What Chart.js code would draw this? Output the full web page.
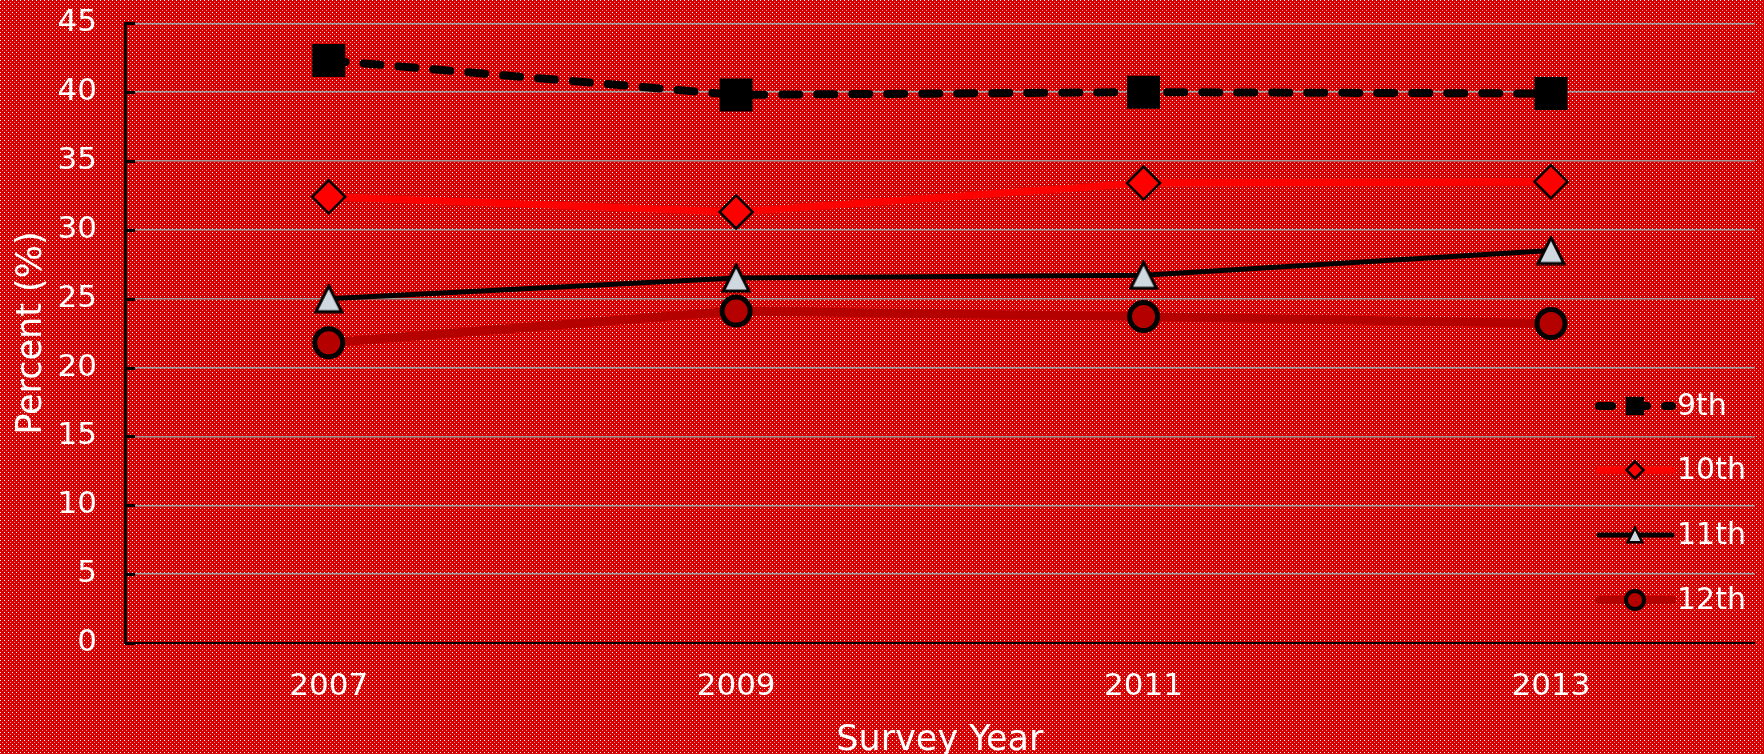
<!DOCTYPE html>
<html>
<head>
<meta charset="utf-8">
<title>Percent by Grade, Survey Years 2007–2013</title>
<script src="https://cdn.jsdelivr.net/npm/chart.js@4/dist/chart.umd.min.js"></script>
<style>
  html, body { margin: 0; padding: 0; overflow: hidden; background: #d40000; }
  #wrap { width: 1764px; height: 754px; overflow: hidden; }
</style>
</head>
<body>
<div id="wrap"><canvas id="chart" width="1778" height="762"></canvas></div>
<script>
// Survey years on the x axis
const years = ['2007', '2009', '2011', '2013'];

// Percent by grade
const grade9  = [42.3, 39.8, 40.0, 39.9];
const grade10 = [32.4, 31.3, 33.4, 33.5];
const grade11 = [25.0, 26.5, 26.7, 28.5];
const grade12 = [21.8, 24.1, 23.7, 23.2];

const seriesNames = ['9th', '10th', '11th', '12th'];

// Y axis range and step
const yMin = 0, yMax = 45, yStep = 5;

const FONT = "'DejaVu Sans', Verdana, sans-serif";

// Triangle marker drawn on its own canvas so it sits centred on the point
function triangleMarker(size, lw) {
  const c = document.createElement('canvas');
  c.width = size; c.height = size;
  const g = c.getContext('2d');
  const m = lw / 2 + 0.5;
  g.beginPath();
  g.moveTo(size / 2, m);
  g.lineTo(size - m, size - m);
  g.lineTo(m, size - m);
  g.closePath();
  g.fillStyle = '#d0d8e0';
  g.fill();
  g.lineWidth = lw;
  g.lineJoin = 'miter';
  g.strokeStyle = '#000';
  g.stroke();
  return c;
}
const triBig = triangleMarker(30, 3);
const triSmall = triangleMarker(18, 2.5);

// Dotted red backdrop
function makePattern(ctx) {
  const t = document.createElement('canvas');
  t.width = 4; t.height = 4;
  const g = t.getContext('2d');
  g.fillStyle = 'rgb(214,0,0)';
  g.fillRect(0, 0, 4, 4);
  g.fillStyle = 'rgb(255,255,255)';
  g.fillRect(0, 0, 1, 1);
  g.fillStyle = 'rgb(236,140,140)';
  g.fillRect(2, 2, 1, 1);
  return ctx.createPattern(t, 'repeat');
}

const backdrop = {
  id: 'backdrop',
  beforeDraw(chart) {
    const ctx = chart.ctx;
    ctx.save();
    ctx.fillStyle = makePattern(ctx);
    ctx.fillRect(0, 0, chart.width, chart.height);
    ctx.restore();
  }
};

// Short black tick marks on the inner side of the y axis
const innerTicks = {
  id: 'innerTicks',
  afterDatasetsDraw(chart) {
    const y = chart.scales.y;
    const ctx = chart.ctx;
    const left = chart.chartArea.left;
    ctx.save();
    ctx.strokeStyle = '#000';
    ctx.lineWidth = 3;
    y.ticks.forEach(t => {
      const py = Math.round(y.getPixelForValue(t.value)) + 0.5;
      ctx.beginPath();
      ctx.moveTo(left, py);
      ctx.lineTo(left + 10, py);
      ctx.stroke();
    });
    ctx.restore();
  }
};

// Legend: line sample with marker, label to the right, inside the plot
const legendSpec = [
  { lw: 8, dash: [17, 18], dashOffset: 4, color: '#000', style: 'rect', r: 13, fill: '#000', bw: 0 },
  { lw: 7, dash: [], dashOffset: 0, color: '#ff0000', style: 'rectRot', r: 8.5, fill: '#ff0000', bw: 2.5 },
  { lw: 5, dash: [], dashOffset: 0, color: '#000', style: triSmall, r: 9, fill: '#d0d8e0', bw: 0 },
  { lw: 8, dash: [], dashOffset: 0, color: '#b50000', style: 'circle', r: 9, fill: '#b50000', bw: 4 }
];

const insideLegend = {
  id: 'insideLegend',
  afterDraw(chart) {
    const ctx = chart.ctx;
    const x0 = 1599, x1 = 1672, xm = 1635, tx = 1677;
    const rowsY = [406, 470, 535, 600];
    ctx.save();
    legendSpec.forEach((s, i) => {
      const py = rowsY[i];
      ctx.beginPath();
      ctx.setLineDash(s.dash);
      ctx.lineDashOffset = s.dashOffset;
      ctx.lineCap = 'round';
      ctx.strokeStyle = s.color;
      ctx.lineWidth = s.lw;
      ctx.moveTo(x0, py);
      ctx.lineTo(x1, py);
      ctx.stroke();
      ctx.setLineDash([]);
      ctx.lineCap = 'butt';
      ctx.fillStyle = s.fill;
      ctx.strokeStyle = '#000';
      ctx.lineWidth = s.bw;
      Chart.helpers.drawPoint(ctx, { pointStyle: s.style, radius: s.r, rotation: 0, borderWidth: s.bw }, xm, py);
      ctx.fillStyle = '#ffffff';
      ctx.font = '30px ' + FONT;
      ctx.textAlign = 'left';
      ctx.textBaseline = 'middle';
      ctx.fillText(seriesNames[i], tx, py + 1);
    });
    ctx.restore();
  }
};

new Chart(document.getElementById('chart'), {
  type: 'line',
  data: {
    labels: years,
    datasets: [
      {
        label: seriesNames[0], data: grade9,
        borderColor: '#000', borderWidth: 8, borderDash: [17, 18], borderCapStyle: 'round',
        pointStyle: 'rect', pointRadius: 23.3, pointBackgroundColor: '#000', pointBorderColor: '#000', pointBorderWidth: 0
      },
      {
        label: seriesNames[1], data: grade10,
        borderColor: '#ff0000', borderWidth: 7,
        pointStyle: 'rectRot', pointRadius: 16.5, pointBackgroundColor: '#ff0000', pointBorderColor: '#000', pointBorderWidth: 2.5
      },
      {
        label: seriesNames[2], data: grade11,
        borderColor: '#000', borderWidth: 5,
        pointStyle: triBig, pointRadius: 15, pointBackgroundColor: '#d0d8e0', pointBorderColor: '#000'
      },
      {
        label: seriesNames[3], data: grade12,
        borderColor: '#b50000', borderWidth: 9,
        pointStyle: 'circle', pointRadius: 14, pointBackgroundColor: '#b50000', pointBorderColor: '#000', pointBorderWidth: 5
      }
    ]
  },
  options: {
    responsive: false,
    animation: false,
    devicePixelRatio: 1,
    layout: { padding: { left: 0, right: 9, top: 22, bottom: 0 } },
    elements: { line: { tension: 0, fill: false } },
    plugins: {
      legend: { display: false },
      tooltip: { enabled: false }
    },
    scales: {
      x: {
        offset: true,
        grid: { display: false, drawTicks: false },
        border: { display: true, color: '#000', width: 2 },
        ticks: { color: '#ffffff', font: { family: FONT, size: 31 }, padding: 25 },
        title: { display: true, text: 'Survey Year', color: '#ffffff', font: { family: FONT, size: 35 }, padding: { top: 0, bottom: 0 } },
        afterFit(scale) { scale.height = 119; scale.paddingLeft = 0; scale.paddingRight = 0; }
      },
      y: {
        min: yMin, max: yMax,
        ticks: { stepSize: yStep, color: '#ffffff', font: { family: FONT, size: 31 }, padding: 28 },
        grid: { color: '#9c9c9c', lineWidth: 1.5, drawTicks: false },
        border: { display: true, color: '#000', width: 3 },
        title: { display: true, text: 'Percent (%)', color: '#ffffff', font: { family: FONT, size: 35 }, padding: { top: 11, bottom: 0 } },
        afterFit(scale) { scale.width = 125; scale.paddingTop = 0; scale.paddingBottom = 0; }
      }
    }
  },
  plugins: [backdrop, innerTicks, insideLegend]
});
</script>
</body>
</html>
